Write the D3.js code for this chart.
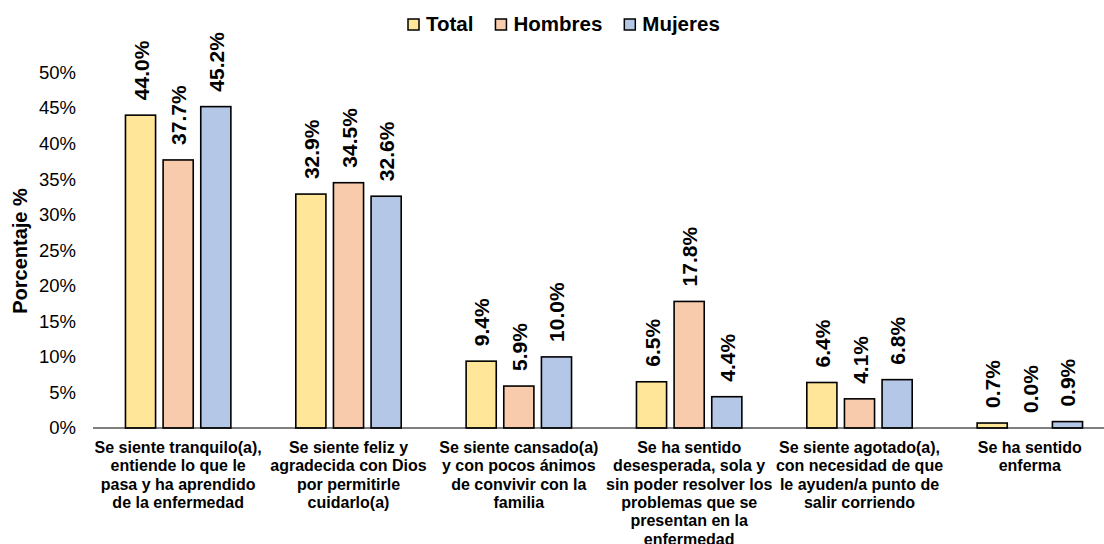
<!DOCTYPE html>
<html>
<head>
<meta charset="utf-8">
<script src="https://cdn.jsdelivr.net/npm/d3@7"></script>
<style>
  body { margin: 0; background: #fff; }
  text { font-family: "Liberation Sans", Arial, sans-serif; fill: #000; }
</style>
</head>
<body>
<svg width="1104" height="544"></svg>
<script>
var categories = [
    ["Se siente tranquilo(a),", "entiende lo que le", "pasa y ha aprendido", "de la enfermedad"],
    ["Se siente feliz y", "agradecida con Dios", "por permitirle", "cuidarlo(a)"],
    ["Se siente cansado(a)", "y con pocos ánimos", "de convivir con la", "familia"],
    ["Se ha sentido", "desesperada, sola y", "sin poder resolver los", "problemas que se", "presentan en la", "enfermedad"],
    ["Se siente agotado(a),", "con necesidad de que", "le ayuden/a punto de", "salir corriendo"],
    ["Se ha sentido", "enferma"]
];
var seriesNames = ["Total", "Hombres", "Mujeres"];
var totalValues = [44.0, 32.9, 9.4, 6.5, 6.4, 0.7];
var hombresValues = [37.7, 34.5, 5.9, 17.8, 4.1, 0.0];
var mujeresValues = [45.2, 32.6, 10.0, 4.4, 6.8, 0.9];
var yTicks = [0, 5, 10, 15, 20, 25, 30, 35, 40, 45, 50];
var colors = ["#FFE699", "#F8CBAD", "#B4C7E7"];

var svg = d3.select("svg");
var values = [totalValues, hombresValues, mujeresValues];

var x0 = d3.scaleBand()
    .domain(d3.range(categories.length))
    .range([93, 1115])
    .padding(0);

var half = 52.7;
var x1 = d3.scaleBand()
    .domain(seriesNames)
    .range([x0.bandwidth() / 2 - half, x0.bandwidth() / 2 + half])
    .paddingInner(0.2);

var y = d3.scaleLinear()
    .domain([0, 50])
    .range([428, 72.5]);

// y tick labels (no axis line)
var yAxis = svg.append("g")
    .attr("transform", "translate(76,0)")
    .call(d3.axisLeft(y).tickValues(yTicks).tickSize(0).tickPadding(0)
        .tickFormat(function(d) { return d + "%"; }));
yAxis.select(".domain").remove();
yAxis.selectAll("text")
    .style("font-size", "18.5px")
    .style("font-family", "Liberation Sans, Arial, sans-serif")
    .attr("fill", "#000");

// y title
svg.append("text")
    .attr("transform", "translate(27,251) rotate(-90)")
    .attr("text-anchor", "middle")
    .style("font-size", "20px")
    .style("font-weight", "bold")
    .text("Porcentaje %");

var groups = svg.selectAll(".grp")
    .data(categories)
    .enter().append("g")
    .attr("class", "grp")
    .attr("transform", function(d, i) { return "translate(" + x0(i) + ",0)"; });

groups.each(function(cat, i) {
    var g = d3.select(this);
    var rows = seriesNames.map(function(s, k) { return {name: s, value: values[k][i], color: colors[k]}; });

    g.selectAll("rect")
        .data(rows)
        .enter().append("rect")
        .attr("x", function(d) { return x1(d.name); })
        .attr("y", function(d) { return y(d.value); })
        .attr("width", x1.bandwidth())
        .attr("height", function(d) { return y(0) - y(d.value); })
        .attr("fill", function(d) { return d.color; })
        .attr("stroke", "#000")
        .attr("stroke-width", 1.6);

    g.selectAll(".lbl")
        .data(rows)
        .enter().append("text")
        .attr("class", "lbl")
        .attr("transform", function(d) {
            return "translate(" + (x1(d.name) + x1.bandwidth() / 2 + 8) + "," + (y(d.value) - 15) + ") rotate(-90)";
        })
        .style("font-size", "21px")
        .style("font-weight", "bold")
        .text(function(d) { return d.value.toFixed(1) + "%"; });

    var t = g.append("text")
        .attr("text-anchor", "middle")
        .style("font-size", "16px")
        .style("font-weight", "bold");
    t.selectAll("tspan")
        .data(cat)
        .enter().append("tspan")
        .attr("x", x0.bandwidth() / 2)
        .attr("y", function(d, j) { return 453 + j * 18.3; })
        .text(function(d) { return d; });
});

// baseline
svg.append("line")
    .attr("x1", 93).attr("x2", 1115)
    .attr("y1", y(0)).attr("y2", y(0))
    .attr("stroke", "#000")
    .attr("stroke-width", 1.2);

// legend
var lx = 408;
seriesNames.forEach(function(s, k) {
    svg.append("rect")
        .attr("x", lx).attr("y", 19)
        .attr("width", 11).attr("height", 11)
        .attr("fill", colors[k])
        .attr("stroke", "#000")
        .attr("stroke-width", 1.5);
    var t = svg.append("text")
        .attr("x", lx + 18).attr("y", 31)
        .style("font-size", "20.5px")
        .style("font-weight", "bold")
        .text(s);
    lx = lx + 18 + t.node().getComputedTextLength() + 22;
});
</script>
</body>
</html>
